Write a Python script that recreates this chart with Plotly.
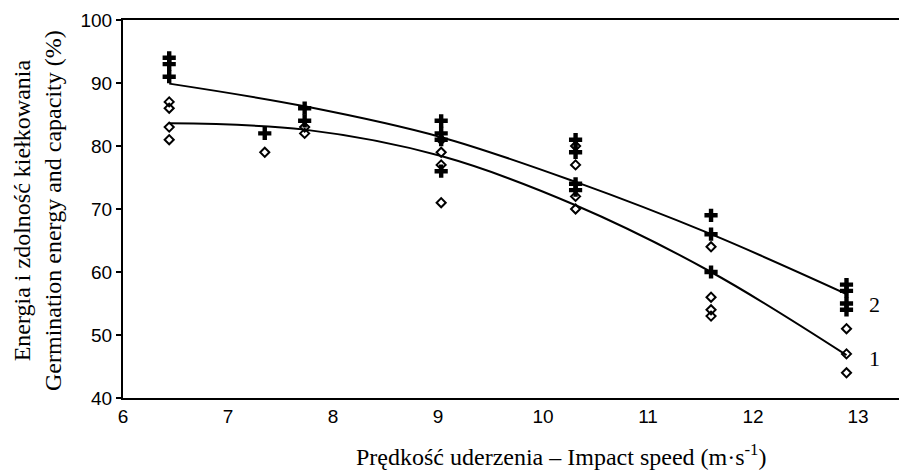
import plotly.graph_objects as go

# Series 2 (crosses) – germination capacity
x2 = [6.44, 6.44, 6.44, 7.35, 7.73, 7.73, 9.03, 9.03, 9.03, 9.03,
      10.31, 10.31, 10.31, 10.31, 11.6, 11.6, 11.6, 12.89, 12.89, 12.89, 12.89]
y2 = [94, 93, 91, 82, 86, 84, 84, 82, 81, 76,
      81, 79, 74, 73, 69, 66, 60, 58, 57, 55, 54]

# Series 1 (diamonds) – germination energy
x1 = [6.44, 6.44, 6.44, 6.44, 7.35, 7.73, 7.73, 9.03, 9.03, 9.03, 9.03,
      10.31, 10.31, 10.31, 10.31, 11.6, 11.6, 11.6, 11.6, 12.89, 12.89, 12.89]
y1 = [87, 86, 83, 81, 79, 83, 82, 81, 79, 77, 71,
      80, 77, 72, 70, 64, 56, 54, 53, 51, 47, 44]

# Trend curves
cx2 = [6.44, 7.73, 9.03, 10.31, 11.6, 12.89]
cy2 = [89.9, 86.3, 81.4, 74.3, 66.0, 56.5]
cx1 = [6.44, 7.73, 9.03, 10.31, 11.6, 12.89]
cy1 = [83.6, 82.6, 78.4, 70.6, 60.0, 46.8]

x_ticks = [6, 7, 8, 9, 10, 11, 12, 13]
y_ticks = [40, 50, 60, 70, 80, 90, 100]

L, T, R, B = 123, 20, 899, 398
W, H = R - L, B - T

def px(xp, yp):
    return (xp - L) / W, (B - yp) / H

fig = go.Figure()
fig.add_trace(go.Scatter(x=cx2, y=cy2, mode="lines",
                         line=dict(color="black", width=2, shape="spline", smoothing=1.0),
                         showlegend=False, hoverinfo="skip"))
fig.add_trace(go.Scatter(x=cx1, y=cy1, mode="lines",
                         line=dict(color="black", width=2, shape="spline", smoothing=1.0),
                         showlegend=False, hoverinfo="skip"))
fig.add_trace(go.Scatter(x=x1, y=y1, mode="markers",
                         marker=dict(symbol="diamond-open", size=7, color="black",
                                     line=dict(width=2, color="black")),
                         showlegend=False))
fig.add_trace(go.Scatter(x=x2, y=y2, mode="markers",
                         marker=dict(symbol="cross", size=11, color="black", line=dict(width=0)),
                         showlegend=False))

serif = "Liberation Serif"
fig.add_annotation(x=12.89, y=54.8, xref="x", yref="y", text="2", showarrow=False,
                   xshift=28, font=dict(family=serif, size=22, color="black"))
fig.add_annotation(x=12.89, y=46.2, xref="x", yref="y", text="1", showarrow=False,
                   xshift=28, font=dict(family=serif, size=22, color="black"))

ax, ay = px(561, 455)
fig.add_annotation(x=ax, y=ay, xref="paper", yref="paper",
                   text="Prędkość uderzenia – Impact speed (m·s<sup>-1</sup>)",
                   showarrow=False, xanchor="center", yanchor="middle",
                   font=dict(family=serif, size=24, color="black"))
bx, by = px(37, 211)
fig.add_annotation(x=bx, y=by, xref="paper", yref="paper", textangle=-90,
                   text="Energia i zdolność kiełkowania<br>Germination energy and capacity (%)",
                   showarrow=False, xanchor="center", yanchor="middle",
                   font=dict(family=serif, size=24, color="black"))

fig.update_layout(
    width=899, height=472,
    margin=dict(l=L, r=899 - R, t=T, b=472 - B),
    plot_bgcolor="white", paper_bgcolor="white",
    xaxis=dict(range=[6, 13.39], tickvals=x_ticks, ticks="", showgrid=False, zeroline=False,
               showline=True, linecolor="black", linewidth=2, mirror=True,
               tickfont=dict(family="Liberation Sans", size=19, color="black")),
    yaxis=dict(range=[40, 100], tickvals=y_ticks, ticks="outside", ticklen=5, tickwidth=1.5,
               tickcolor="black", showgrid=False, zeroline=False, showline=True,
               linecolor="black", linewidth=2,
               tickfont=dict(family="Liberation Sans", size=19, color="black")),
)
fig.write_html("out.html")
